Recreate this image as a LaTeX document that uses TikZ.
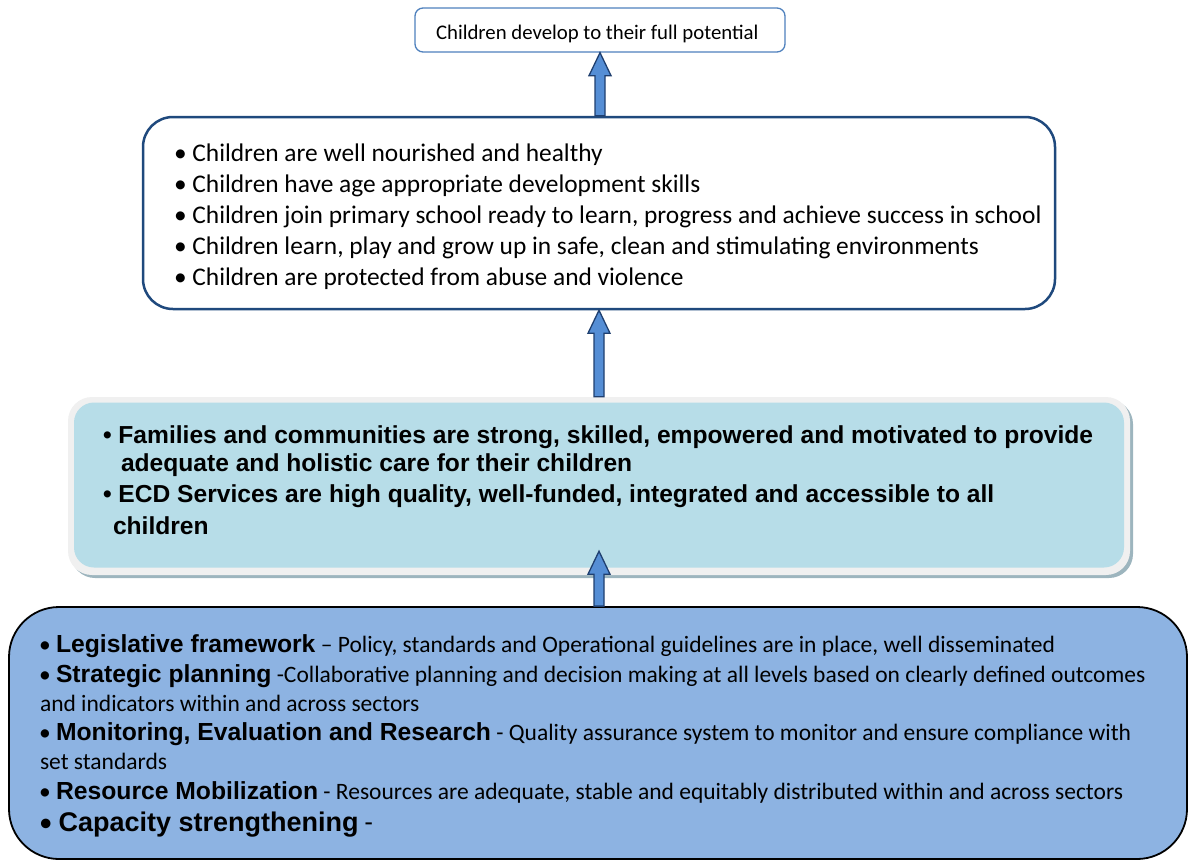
\documentclass[tikz,border=0pt]{standalone}
\usepackage{fontspec}
\setmainfont{Carlito}
\newfontfamily\carl{Carlito}
\newfontfamily\arl{Liberation Sans}
\usetikzlibrary{calc}
\definecolor{topborder}{HTML}{4F81BD}
\definecolor{darkblue}{HTML}{1F497D}
\definecolor{arrowfill}{HTML}{558ED5}
\definecolor{arrowline}{HTML}{1F3F6F}
\definecolor{lightcyan}{HTML}{B7DDE8}
\definecolor{frame}{HTML}{F0F0F0}
\definecolor{shadowc}{HTML}{9DB5BE}
\definecolor{midblue}{HTML}{8DB3E2}
\newcommand{\fs}[1]{\fontsize{#1}{#1}\selectfont}
\begin{document}
\begin{tikzpicture}[x=1pt,y=-1pt,
  txt/.style={anchor=base west,inner sep=0pt,outer sep=0pt,text=black},
  blockarrow/.style={fill=arrowfill,draw=arrowline,line width=1.3pt,line join=miter}]
\useasboundingbox (0,0) rectangle (1188,860);
% boxes
\node[draw=topborder,line width=1.3pt,rounded corners=8pt,fill=white,minimum width=370pt,minimum height=44pt,inner sep=0pt] (top) at (600,30) {};
\node[draw=darkblue,line width=2.5pt,rounded corners=30pt,fill=white,minimum width=912pt,minimum height=192pt,inner sep=0pt] (b2) at (599,213) {};
\node[fill=shadowc,rounded corners=24pt,minimum width=1062pt,minimum height=178pt,inner sep=0pt] (b3s) at (602,489) {};
\node[fill=frame,rounded corners=24pt,minimum width=1062pt,minimum height=178pt,inner sep=0pt] (b3) at (599,486) {};
\node[fill=lightcyan,rounded corners=20pt,minimum width=1050pt,minimum height=165pt,inner sep=0pt] (b3i) at (599,485) {};
\node[draw=black,line width=1.8pt,rounded corners=50pt,fill=midblue,minimum width=1178pt,minimum height=252pt,inner sep=0pt] (b4) at (598,733) {};
% arrows
\coordinate (a3tip) at ($(b3.south)+(0,-24)$);
\foreach \s/\t in {b4.north/a3tip, b3.north/b2.south, b2.north/top.south}{
  \draw[blockarrow] let \p1=(\s), \p2=(\t) in
    (\x2,\y2) -- (\x2+11pt,\y2-23pt) -- (\x2+5pt,\y2-23pt) -- (\x2+5pt,\y1)
    -- (\x2-5pt,\y1) -- (\x2-5pt,\y2-23pt) -- (\x2-11pt,\y2-23pt) -- cycle;
}
% top text
\node[txt] (t0) at (436,39) {\carl\fs{20.8}Children develop to their full potential};
% box 2 text
\begin{scope}[every node/.style={txt}]
\node (l1) at (174,161) {\carl\fs{25.4}\textbullet\ Children are well nourished and healthy};
\node (l2) at (174,192) {\carl\fs{25.4}\textbullet\ Children have age appropriate development skills};
\node (l3) at (174,223) {\carl\fs{25.4}\textbullet\ Children join primary school ready to learn, progress and achieve success in school};
\node (l4) at (174,254) {\carl\fs{25.4}\textbullet\ Children learn, play and grow up in safe, clean and stimulating environments};
\node (l5) at (174,285) {\carl\fs{25.4}\textbullet\ Children are protected from abuse and violence};
% box 3 text
\node (m1) at (103,443) {\arl\bfseries\fs{24.6}\textbullet\ Families and communities are strong, skilled, empowered and motivated to provide};
\node (m2) at (121,471) {\arl\bfseries\fs{24.6}adequate and holistic care for their children};
\node (m3) at (103,502) {\arl\bfseries\fs{24.6}\textbullet\ ECD Services are high quality, well-funded, integrated and accessible to all};
\node (m4) at (113,534) {\arl\bfseries\fs{24.6}children};
% box 4 text
\node (n1) at (39,652) {\carl\fs{23.5}\textbullet\ {\arl\bfseries\fs{24.7}Legislative framework} – Policy, standards and Operational guidelines are in place, well disseminated};
\node (n2) at (39,682) {\carl\fs{23.5}\textbullet\ {\arl\bfseries\fs{24.7}Strategic planning} -Collaborative planning and decision making at all levels based on clearly defined outcomes};
\node (n3) at (40,711) {\carl\fs{23.5}and indicators within and across sectors};
\node (n4) at (39,740) {\carl\fs{23.5}\textbullet\ {\arl\bfseries\fs{24.7}Monitoring, Evaluation and Research} - Quality assurance system to monitor and ensure compliance with};
\node (n5) at (40,769) {\carl\fs{23.5}set standards};
\node (n6) at (39,799) {\carl\fs{23.5}\textbullet\ {\arl\bfseries\fs{24.7}Resource Mobilization} - Resources are adequate, stable and equitably distributed within and across sectors};
\node (n7) at (39,831) {\carl\fs{27}\textbullet\ {\arl\bfseries\fs{27}Capacity strengthening} -};
\end{scope}
\end{tikzpicture}
\end{document}
